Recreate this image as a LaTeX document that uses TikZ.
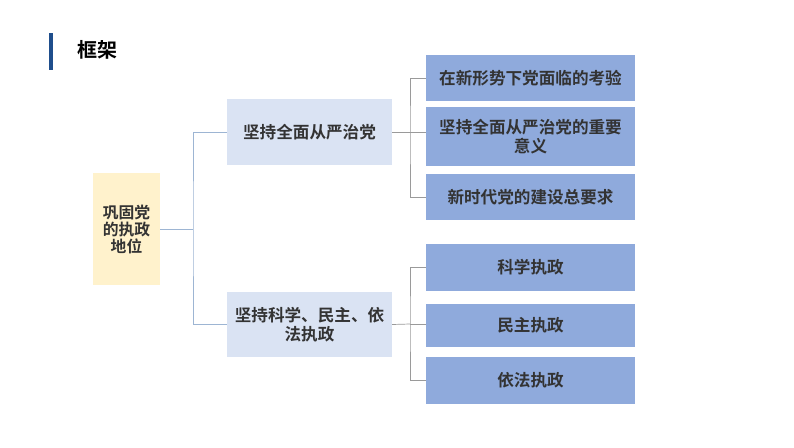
\documentclass[tikz,border=0pt]{standalone}
\usepackage{fontspec}
\setmainfont{Noto Sans CJK SC}[BoldFont={Noto Sans CJK SC Bold}]
\begin{document}
\begin{tikzpicture}[x=1pt,y=-1pt,
  rootbox/.style={fill=rootfill,draw=none,inner sep=0pt,align=center,text=textdark,font=\bfseries\fontsize{15.8}{17}\selectfont},
  midbox/.style={fill=midfill,draw=none,inner sep=0pt,align=center,text=textdark,font=\bfseries\fontsize{16.6}{18.5}\selectfont},
  leafbox/.style={fill=leaffill,draw=none,inner sep=0pt,align=center,text=textdark,font=\bfseries\fontsize{16.6}{19}\selectfont},
  link/.style={draw=linkcol,line width=0.7pt},
  link2/.style={draw=linkgray,line width=0.7pt}]
\definecolor{rootfill}{HTML}{FFF2CC}
\definecolor{midfill}{HTML}{DAE3F3}
\definecolor{leaffill}{HTML}{8FAADC}
\definecolor{textdark}{HTML}{333333}
\definecolor{linkcol}{HTML}{9DB5D3}
\definecolor{linkgray}{HTML}{9A9A9A}
\definecolor{barblue}{HTML}{1F4E8C}
\useasboundingbox (0,0) rectangle (794,447);
\fill[white] (0,0) rectangle (794,447);
% title
\fill[barblue] (49,33) rectangle (53,70);
\node[anchor=west,inner sep=0pt,font=\bfseries\fontsize{20}{22}\selectfont] (title) at (77.5,50) {框架};
% root
\node[rootbox,minimum width=67pt,minimum height=112pt] (root) at (126.5,229) {巩固党\\的执政\\地位};
% mid boxes
\node[midbox,minimum width=165pt,minimum height=66pt] (m1) at (309.5,132) {坚持全面从严治党};
\node[midbox,minimum width=165pt,minimum height=65pt] (m2) at (309.5,324.5) {坚持科学、民主、依\\法执政};
% leaf boxes
\node[leafbox,minimum width=209pt,minimum height=46pt] (a) at (530.5,78) {在新形势下党面临的考验};
\node[leafbox,minimum width=209pt,minimum height=59pt] (b) at (530.5,136.5) {坚持全面从严治党的重要\\意义};
\node[leafbox,minimum width=209pt,minimum height=46pt] (c) at (530.5,197) {新时代党的建设总要求};
\node[leafbox,minimum width=209pt,minimum height=47pt] (d) at (530.5,267.5) {科学执政};
\node[leafbox,minimum width=209pt,minimum height=43pt] (e) at (530.5,325.5) {民主执政};
\node[leafbox,minimum width=209pt,minimum height=47pt] (f) at (530.5,380.5) {依法执政};
% connectors root
\coordinate (j0) at (193,229);
\draw[link] (root.east) -- (j0);
\draw[link] (m1.west) -| (j0) |- (m2.west);
% connectors group 1
\coordinate (j1) at (410,132);
\draw[link2] (m1.east) -- (j1);
\draw[link2] (a.west) -| (j1) |- (c.west);
\draw[link2] (j1) -- (b.west |- j1);
% connectors group 2
\coordinate (j2) at (410,324);
\draw[link2] (m2.east) -- (j2);
\draw[link2] (d.west) -| (j2) |- (f.west);
\draw[link2] (j2) -- (e.west |- j2);
\end{tikzpicture}
\end{document}
